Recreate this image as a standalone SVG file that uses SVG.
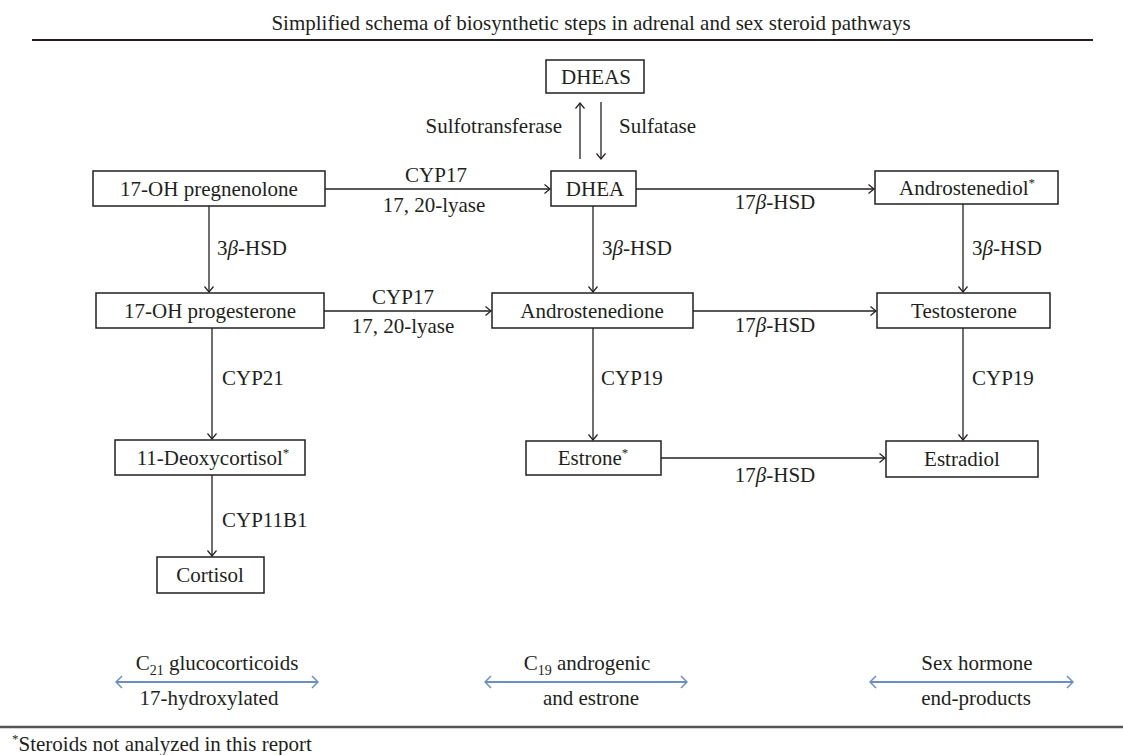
<svg xmlns="http://www.w3.org/2000/svg" width="1123" height="755" viewBox="0 0 1123 755">
<defs>
<marker id="ah" viewBox="-7 -6 8 12" markerWidth="8" markerHeight="12" refX="0" refY="0" orient="auto" markerUnits="userSpaceOnUse">
<path d="M-5.5,-4.5 L0,0 L-5.5,4.5" fill="none" stroke="#231f20" stroke-width="1.2"/>
</marker>
<marker id="bh" viewBox="-9 -8 10 16" markerWidth="10" markerHeight="16" refX="0" refY="0" orient="auto-start-reverse" markerUnits="userSpaceOnUse">
<path d="M-6,-6 L0,0 L-6,6" fill="none" stroke="#6b8fc2" stroke-width="1.5"/>
</marker>
</defs>
<style>
text{font-family:"Liberation Serif","Times New Roman",serif;font-size:21px;fill:#231f20}
.box{fill:#fff;stroke:#231f20;stroke-width:1.5}
.c text{text-anchor:middle}
.conn line{stroke:#231f20;stroke-width:1.3;marker-end:url(#ah)}
.lbl{font-size:20.5px}
.mid{text-anchor:middle}
.sup{font-size:13px}
.blue{stroke:#6b8fc2;stroke-width:2;marker-start:url(#bh);marker-end:url(#bh)}
</style>
<rect width="1123" height="755" fill="#fff"/>
<text x="591" y="30" class="mid">Simplified schema of biosynthetic steps in adrenal and sex steroid pathways</text>
<line x1="32" y1="40" x2="1093" y2="40" stroke="#231f20" stroke-width="2"/>

<g class="c">
<g id="n-dheas"><rect class="box" x="546" y="60" width="98" height="33"/><text x="596" y="84">DHEAS</text></g>
<g id="n-17ohpreg"><rect class="box" x="93" y="171" width="232" height="35"/><text x="209" y="196">17-OH pregnenolone</text></g>
<g id="n-dhea"><rect class="box" x="551" y="171" width="85" height="35"/><text x="595" y="196">DHEA</text></g>
<g id="n-androstenediol"><rect class="box" x="875" y="171" width="183" height="33"/><text x="967" y="195">Androstenediol<tspan class="sup" dy="-8">*</tspan></text></g>
<g id="n-17ohprog"><rect class="box" x="96" y="293" width="228" height="35"/><text x="210" y="318">17-OH progesterone</text></g>
<g id="n-androstenedione"><rect class="box" x="492" y="293" width="201" height="35"/><text x="592" y="318">Androstenedione</text></g>
<g id="n-testosterone"><rect class="box" x="877" y="293" width="173" height="35"/><text x="964" y="318">Testosterone</text></g>
<g id="n-11deoxy"><rect class="box" x="115" y="440" width="190" height="35"/><text x="213" y="465">11-Deoxycortisol<tspan class="sup" dy="-8">*</tspan></text></g>
<g id="n-estrone"><rect class="box" x="526" y="441" width="135" height="34"/><text x="593" y="465">Estrone<tspan class="sup" dy="-8">*</tspan></text></g>
<g id="n-estradiol"><rect class="box" x="886" y="441" width="152" height="36"/><text x="962" y="466">Estradiol</text></g>
<g id="n-cortisol"><rect class="box" x="157" y="557" width="107" height="36"/><text x="210" y="582">Cortisol</text></g>
</g>

<g class="conn" id="connectors">
<line x1="580" y1="159" x2="580" y2="103"/>
<line x1="601" y1="102" x2="601" y2="159"/>
<line x1="325" y1="189" x2="550" y2="189"/>
<line x1="636" y1="189" x2="874" y2="189"/>
<line x1="209" y1="206" x2="209" y2="292"/>
<line x1="593" y1="206" x2="593" y2="292"/>
<line x1="963" y1="204" x2="963" y2="292"/>
<line x1="324" y1="311" x2="491" y2="311"/>
<line x1="693" y1="311" x2="876" y2="311"/>
<line x1="212" y1="328" x2="212" y2="439"/>
<line x1="593" y1="328" x2="593" y2="440"/>
<line x1="963" y1="328" x2="963" y2="440"/>
<line x1="661" y1="458" x2="885" y2="458"/>
<line x1="212" y1="475" x2="212" y2="556"/>
</g>

<g id="labels" class="lbl">
<text x="562" y="133" text-anchor="end">Sulfotransferase</text>
<text x="619" y="133">Sulfatase</text>
<text x="436" y="182" class="mid">CYP17</text>
<text x="434" y="212" class="mid">17, 20-lyase</text>
<text x="775" y="209" class="mid">17<tspan font-style="italic">β</tspan>-HSD</text>
<text x="217" y="255">3<tspan font-style="italic">β</tspan>-HSD</text>
<text x="602" y="255">3<tspan font-style="italic">β</tspan>-HSD</text>
<text x="972" y="255">3<tspan font-style="italic">β</tspan>-HSD</text>
<text x="403" y="304" class="mid">CYP17</text>
<text x="403" y="333" class="mid">17, 20-lyase</text>
<text x="775" y="332" class="mid">17<tspan font-style="italic">β</tspan>-HSD</text>
<text x="222" y="385">CYP21</text>
<text x="601" y="385">CYP19</text>
<text x="972" y="385">CYP19</text>
<text x="775" y="482" class="mid">17<tspan font-style="italic">β</tspan>-HSD</text>
<text x="222" y="527">CYP11B1</text>
</g>

<g id="legend">
<text x="217" y="670" class="mid">C<tspan font-size="14" dy="5">21</tspan><tspan dy="-5"> glucocorticoids</tspan></text>
<line class="blue" x1="116" y1="682" x2="318" y2="682"/>
<text x="209" y="705" class="mid">17-hydroxylated</text>
<text x="587" y="670" class="mid">C<tspan font-size="14" dy="5">19</tspan><tspan dy="-5"> androgenic</tspan></text>
<line class="blue" x1="485" y1="682" x2="687" y2="682"/>
<text x="591" y="705" class="mid">and estrone</text>
<text x="977" y="670" class="mid">Sex hormone</text>
<line class="blue" x1="870" y1="682" x2="1073" y2="682"/>
<text x="976" y="705" class="mid">end-products</text>
</g>

<line x1="0" y1="727" x2="1123" y2="727" stroke="#555" stroke-width="2.5"/>
<text x="12" y="751"><tspan class="sup" dy="-8">*</tspan><tspan dy="8">Steroids not analyzed in this report</tspan></text>
</svg>
